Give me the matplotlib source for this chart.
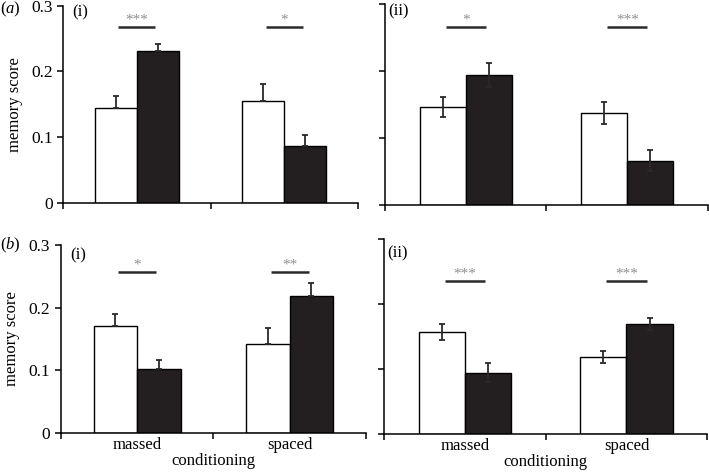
import matplotlib
matplotlib.use('Agg')
import matplotlib.pyplot as plt

plt.rcParams['font.family'] = ['Liberation Serif', 'DejaVu Serif']
plt.rcParams['mathtext.fontset'] = 'custom'
plt.rcParams['mathtext.it'] = 'Liberation Serif:italic'
plt.rcParams['mathtext.rm'] = 'Liberation Serif'

groups = ['massed', 'spaced']

# panel values: (white bars, black bars), errors, significance
a1_white = [0.144, 0.155]
a1_black = [0.231, 0.087]
a1_white_err = [0.018, 0.026]
a1_black_err = [0.011, 0.017]
a1_stars = ['***', '*']
a1_sig_y = 0.267

a2_white = [0.146, 0.137]
a2_black = [0.194, 0.066]
a2_white_err = [0.015, 0.016]
a2_black_err = [0.018, 0.016]
a2_stars = ['*', '***']
a2_sig_y = 0.266

b1_white = [0.170, 0.142]
b1_black = [0.103, 0.219]
b1_white_err = [0.019, 0.026]
b1_black_err = [0.014, 0.020]
b1_stars = ['*', '**']
b1_sig_y = 0.256

b2_white = [0.157, 0.119]
b2_black = [0.095, 0.170]
b2_white_err = [0.012, 0.009]
b2_black_err = [0.015, 0.009]
b2_stars = ['***', '***']
b2_sig_y = 0.236

yticks = [0, 0.1, 0.2, 0.3]
ytick_labels = ['0', '0.1', '0.2', '0.3']

fig = plt.figure(figsize=(7.09, 4.74), dpi=100)

panels = [
    ([0.0889, 0.5717, 0.4161, 0.4166], a1_white, a1_black, a1_white_err, a1_black_err, a1_stars, a1_sig_y, '(i)', 0.290, False, True, False),
    ([0.5430, 0.5680, 0.4555, 0.4236], a2_white, a2_black, a2_white_err, a2_black_err, a2_stars, a2_sig_y, '(ii)', 0.289, True, False, False),
    ([0.0856, 0.0859, 0.4307, 0.3979], b1_white, b1_black, b1_white_err, b1_black_err, b1_stars, b1_sig_y, '(i)', 0.283, False, True, True),
    ([0.5420, 0.0838, 0.4555, 0.4113], b2_white, b2_black, b2_white_err, b2_black_err, b2_stars, b2_sig_y, '(ii)', 0.279, True, False, True),
]

width = 0.285
centers = [0.5, 1.5]

for rect, white, black, werr, berr, stars, sig_y, tag, tag_y, two_sided, ylab, xlab in panels:
    ax = fig.add_axes(rect)
    xw = [c - width / 2 for c in centers]
    xb = [c + width / 2 for c in centers]
    ax.bar(xw, white, width, color='white', edgecolor='black', linewidth=1.0, zorder=2)
    ax.bar(xb, black, width, color='#231f20', edgecolor='black', linewidth=1.0, zorder=2)
    if two_sided:
        ew, eb = werr, berr
    else:
        ew = [[0] * len(werr), werr]
        eb = [[0] * len(berr), berr]
    ax.errorbar(xw, white, yerr=ew, fmt='none', ecolor='#2a2a2a', elinewidth=1.3, capsize=2.5, capthick=1.3, zorder=3)
    ax.errorbar(xb, black, yerr=eb, fmt='none', ecolor='#2a2a2a', elinewidth=1.3, capsize=2.5, capthick=1.3, zorder=3)

    for c, s in zip(centers, stars):
        ax.plot([c - 0.125, c + 0.125], [sig_y, sig_y], color='#2a2a2a', linewidth=1.8, solid_capstyle='butt')
        ax.text(c, sig_y + 0.001, s, ha='center', va='bottom', fontsize=11, color='#909090')

    ax.text(0.065 if tag == '(i)' else 0.02, tag_y, tag, ha='left', va='center', fontsize=12)

    ax.set_xlim(0, 2)
    ax.set_ylim(0, 0.3)
    ax.spines['top'].set_visible(False)
    ax.spines['right'].set_visible(False)
    for sp in ['left', 'bottom']:
        ax.spines[sp].set_linewidth(1.1)
    ax.set_yticks(yticks)
    if ylab:
        ax.set_yticklabels(ytick_labels, fontsize=12.5)
        ax.set_ylabel('memory score', fontsize=12, labelpad=6)
    else:
        ax.set_yticklabels([])
    ax.set_xticks([0, 1, 2])
    ax.set_xticklabels([])
    ax.tick_params(axis='both', which='major', length=4, width=1.1, direction='out')
    if xlab:
        ax.set_xticks(centers, minor=True)
        ax.set_xticklabels(groups, minor=True, fontsize=12)
        ax.tick_params(axis='x', which='minor', length=0, pad=3)
        ax.set_xlabel('conditioning', fontsize=12, labelpad=0)

fig.text(0.0, 1 - 9 / 474, r'($\mathit{a}$)', fontsize=12, ha='left', va='center')
fig.text(0.0, 1 - 245 / 474, r'($\mathit{b}$)', fontsize=12, ha='left', va='center')

fig.savefig('out.png', dpi=100)
